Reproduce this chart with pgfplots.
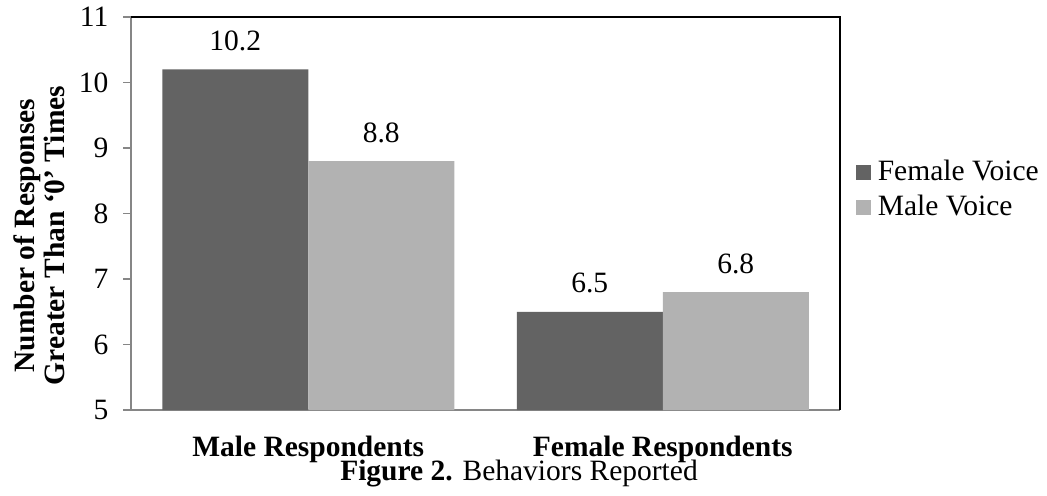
\documentclass[border=0pt]{standalone}
\usepackage{fontspec}
\setmainfont{Liberation Serif}
\usepackage{pgfplots}
\pgfplotsset{compat=1.18}
\definecolor{darkbar}{RGB}{99,99,99}
\definecolor{lightbar}{RGB}{178,178,178}
\definecolor{axgray}{RGB}{134,134,134}
\newcommand{\fs}{\fontsize{14.75}{17.7}\selectfont}
\begin{document}
\fs
\begin{tikzpicture}[x=1pt,y=1pt]
\useasboundingbox (0,0) rectangle (523.5,247.5);
\begin{axis}[
  at={(65.5pt,42.5pt)}, anchor=south west,
  scale only axis, width=354.5pt, height=196.5pt,
  xmin=-0.5, xmax=1.5, ymin=5, ymax=11,
  ytick={5,6,7,8,9,10,11},
  xtick={0,1},
  xticklabels={Male Respondents, Female Respondents},
  axis x line*=bottom, axis y line*=left,
  axis line style={axgray, line width=0.8pt},
  tick align=outside,
  major tick length=3.75pt,
  y tick style={axgray, line width=0.8pt},
  x tick style={draw=none},
  extra x ticks={-0.5,0.5,1.5},
  extra x tick labels={},
  extra x tick style={tick style={draw=axgray, line width=0.8pt}, major tick length=4pt},
  /pgf/number format/assume math mode=true,
  ticklabel style={font=\fs},
  yticklabel style={xshift=-2.5pt},
  xticklabel style={font=\fs\bfseries, anchor=base, yshift=-19.5pt},
  x tick label style={text depth=0pt},
  ylabel={Number of Responses\\Greater Than ‘0’ Times},
  ylabel style={at={(rel axis cs:0,0.444)}, anchor=south, yshift=33pt, inner sep=0pt, align=center, font=\fontsize{14.75}{15}\selectfont\bfseries},
  ybar=0pt, bar width=73pt,
  nodes near coords,
  nodes near coords style={font=\fs, inner sep=0pt, yshift=9pt},
  point meta=explicit symbolic,
  legend style={draw=none, fill=none, at={(1,0.559)}, anchor=west, xshift=5pt, font=\fs, row sep=1pt,
    /tikz/every odd column/.style={column sep=1.2pt}},
  legend cell align=left,
  clip=false,
]
\addplot[fill=darkbar, draw=none, legend image code/.code={\fill[darkbar] (0pt,-3.75pt) rectangle (7.5pt,3.75pt);}]
  coordinates {(0,10.2) [10.2] (1,6.5) [6.5]};
\addplot[fill=lightbar, draw=none, legend image code/.code={\fill[lightbar] (0pt,-3.75pt) rectangle (7.5pt,3.75pt);}]
  coordinates {(0,8.8) [8.8] (1,6.8) [6.8]};
\legend{Female Voice, Male Voice}
\draw[black, line width=0.8pt] (rel axis cs:0,1) -- (rel axis cs:1,1) -- (rel axis cs:1,0);
\end{axis}
\node[anchor=base, inner sep=0pt, font=\fs] at (259.5,7.5) {\textbf{Figure 2.} Behaviors Reported};
\end{tikzpicture}
\end{document}
